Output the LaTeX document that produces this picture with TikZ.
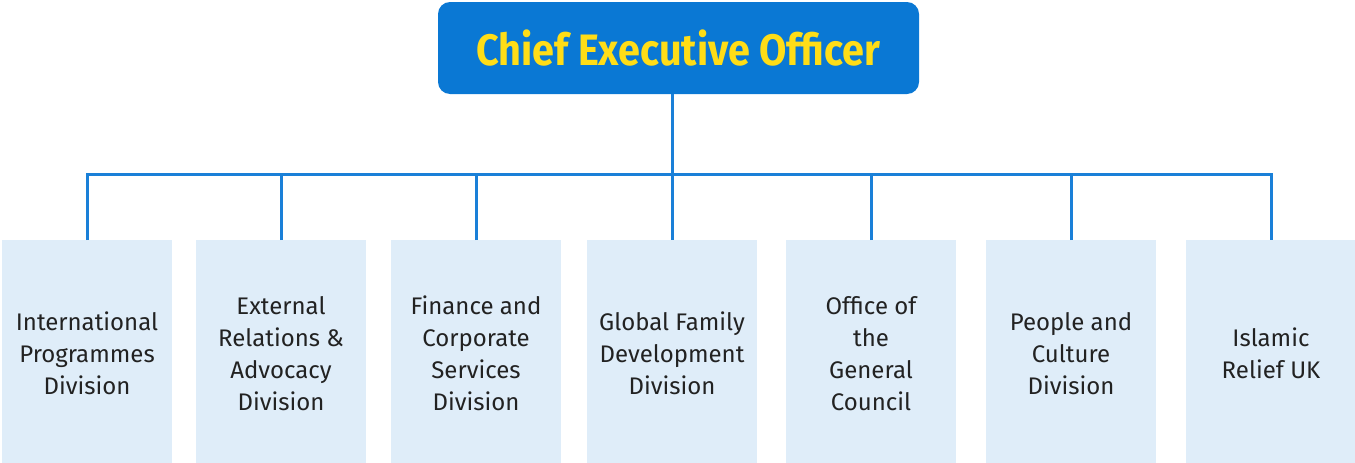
\documentclass[tikz,border=0pt]{standalone}
\usepackage{fontspec}
\setmainfont{Fira Sans}
\newfontfamily\ceofont{Fira Sans}[FakeStretch=0.90]
\usetikzlibrary{positioning}
\definecolor{ceoblue}{HTML}{0A78D4}
\definecolor{lineblue}{HTML}{1A80D8}
\definecolor{ceoyellow}{HTML}{FFDD17}
\definecolor{divfill}{HTML}{DFEDF9}
\definecolor{divtext}{HTML}{222222}

\begin{document}
\begin{tikzpicture}[
    x=1pt,
    y=-1pt,
    ceo node/.style={rectangle,rounded corners=12pt,fill=ceoblue,minimum width=481pt,minimum height=92pt,
      text=ceoyellow,font=\ceofont\bfseries\fontsize{44}{48}\selectfont},
    division node/.style={rectangle,fill=divfill,minimum width=170pt,minimum height=227pt,outer sep=0pt,
      align=center,text=divtext,font=\fontsize{24}{32}\selectfont},
    conn/.style={draw=lineblue,line width=3pt}]

  \useasboundingbox (0,0) rectangle (1355,463);

  \node[ceo node] (ceo) at (678.5,48) {Chief Executive Officer};

  \node[division node] (ipd) at (87,353.5) {International\\Programmes\\Division};
  \node[division node] (erad) [right=24pt of ipd] {External\\Relations \&\\Advocacy\\Division};
  \node[division node] (fcsd) [right=25pt of erad] {Finance and\\Corporate\\Services\\Division};
  \node[division node] (gfdd) [right=26pt of fcsd] {Global Family\\Development\\Division};
  \node[division node] (ogc) [right=29pt of gfdd] {Office of\\the\\General\\Council};
  \node[division node] (pcd) [right=30pt of ogc] {People and\\Culture\\Division};
  \node[division node] (iruk) [right=30pt of pcd] {Islamic\\Relief UK};

  \coordinate (bus) at (0,174);

  \draw[conn] (gfdd.north |- ceo.south) -- (gfdd.north);
  \draw[conn] (ipd.north) -- (ipd.north |- bus) -| (iruk.north);
  \foreach \div in {erad,fcsd,ogc,pcd}
    \draw[conn] (\div.north) -- (\div.north |- bus);
\end{tikzpicture}
\end{document}
